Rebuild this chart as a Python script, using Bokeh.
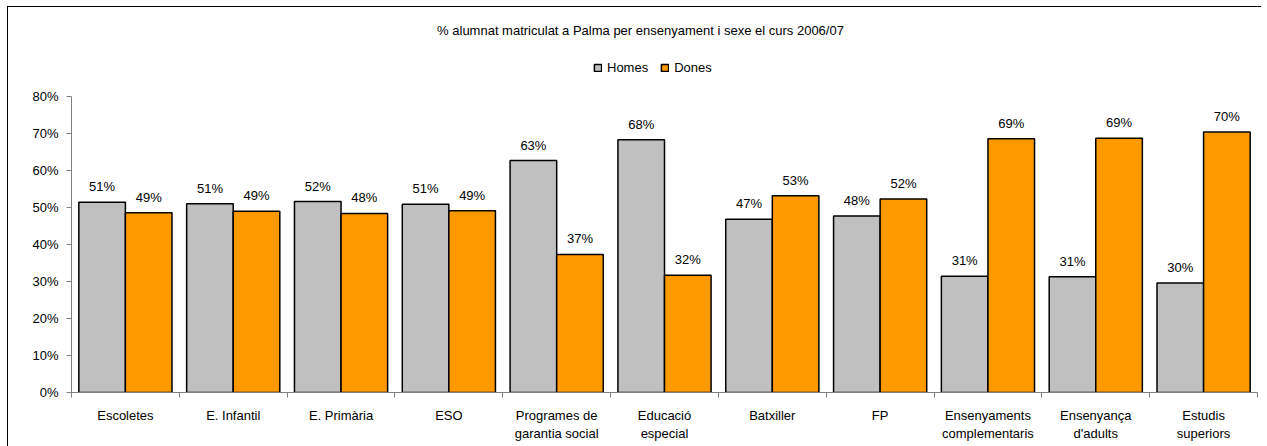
from bokeh.plotting import figure
from bokeh.models import (ColumnDataSource, Range1d, FixedTicker, NumeralTickFormatter,
                          Legend, LegendItem, Label)
from bokeh.transform import dodge
from bokeh.embed import file_html
from bokeh.resources import INLINE
from bokeh.core.properties import value

# ---------------- data ----------------
categories = ["Escoletes", "E. Infantil", "E. Primària", "ESO",
              "Programes de\ngarantia social", "Educació\nespecial",
              "Batxiller", "FP", "Ensenyaments\ncomplementaris",
              "Ensenyança\nd'adults", "Estudis\nsuperiors"]
homes = [0.514, 0.510, 0.516, 0.509, 0.627, 0.683, 0.468, 0.477, 0.314, 0.313, 0.296]
dones = [0.486, 0.490, 0.484, 0.491, 0.373, 0.317, 0.532, 0.523, 0.686, 0.687, 0.704]
series_names = ["Homes", "Dones"]
y_ticks = [0.0, 0.1, 0.2, 0.3, 0.4, 0.5, 0.6, 0.7, 0.8]
title_text = "% alumnat matriculat a Palma per ensenyament i sexe el curs 2006/07"

FONT = "Liberation Sans"
FS = "13px"
GRAY_AXIS = "#808080"
C_HOMES = "#C0C0C0"
C_DONES = "#FF9900"

n = len(categories)
centers = [i + 0.5 for i in range(n)]   # category slot centres on a numeric axis

src = ColumnDataSource(dict(
    x=centers, homes=homes, dones=dones,
    homes_lbl=[f"{round(v * 100)}%" for v in homes],
    dones_lbl=[f"{round(v * 100)}%" for v in dones],
))

# frame extends to the top of the chart so that title & legend sit inside it;
# the y axis line is bounded to 0..80 %
Y_TOP = 385 / 370.0
p = figure(x_range=Range1d(0, n), y_range=Range1d(0, Y_TOP),
           frame_width=1186, frame_height=385,
           min_border_left=63, min_border_right=4, min_border_top=0,
           min_border_bottom=54,
           output_backend="svg", toolbar_location=None)
p.styles = {"margin-left": "7px", "margin-top": "6px",
            "border-left": "1px solid black", "border-top": "1px solid black"}
p.outline_line_color = None
p.grid.visible = False

# y axis
ya = p.yaxis[0]
ya.bounds = (0, 0.8)
ya.ticker = FixedTicker(ticks=y_ticks)
ya.formatter = NumeralTickFormatter(format="0%")
ya.axis_line_color = GRAY_AXIS
ya.major_tick_line_color = GRAY_AXIS
ya.major_tick_out = 5
ya.major_tick_in = 0
ya.minor_tick_line_color = None
ya.major_label_standoff = 8
ya.major_label_text_font = FONT
ya.major_label_text_font_size = FS
ya.major_label_text_color = "black"

# x axis: labels at slot centres, ticks at slot boundaries
xa = p.xaxis[0]
xa.ticker = FixedTicker(ticks=centers, minor_ticks=list(range(n + 1)))
xa.major_label_overrides = {c: name for c, name in zip(centers, categories)}
xa.axis_line_color = GRAY_AXIS
xa.major_tick_line_color = None
xa.major_tick_out = 0
xa.major_tick_in = 0
xa.minor_tick_line_color = GRAY_AXIS
xa.minor_tick_out = 5
xa.minor_tick_in = 0
xa.major_label_standoff = 10
xa.major_label_text_font = FONT
xa.major_label_text_font_size = FS
xa.major_label_text_color = "black"

# bars
r1 = p.vbar(x=dodge("x", -0.216), top="homes", width=0.432,
            source=src, fill_color=C_HOMES, line_color="black", line_width=1.5)
r2 = p.vbar(x=dodge("x", 0.216), top="dones", width=0.432,
            source=src, fill_color=C_DONES, line_color="black", line_width=1.5)

# value labels
for off, col, lbl in [(-0.216, "homes", "homes_lbl"), (0.216, "dones", "dones_lbl")]:
    p.text(x=dodge("x", off), y=col, text=lbl, source=src,
           text_align="center", text_baseline="bottom", y_offset=-8,
           text_font=value(FONT), text_font_size=FS, text_color="black")

# title
p.add_layout(Label(x=569, y=362, x_units="screen", y_units="screen",
                   text=title_text, text_align="center", text_baseline="middle",
                   text_font=FONT, text_font_size=FS, text_color="black"))

# legend
legend = Legend(items=[LegendItem(label=series_names[0], renderers=[r1]),
                       LegendItem(label=series_names[1], renderers=[r2])],
                location=(522, 317), orientation="horizontal",
                glyph_width=9, glyph_height=9, label_height=14,
                label_standoff=5, spacing=12, padding=0, margin=0,
                label_text_font=FONT, label_text_font_size=FS,
                label_text_color="black",
                border_line_color=None, background_fill_alpha=0)
p.add_layout(legend)

open("out.html", "w").write(file_html(p, INLINE))
